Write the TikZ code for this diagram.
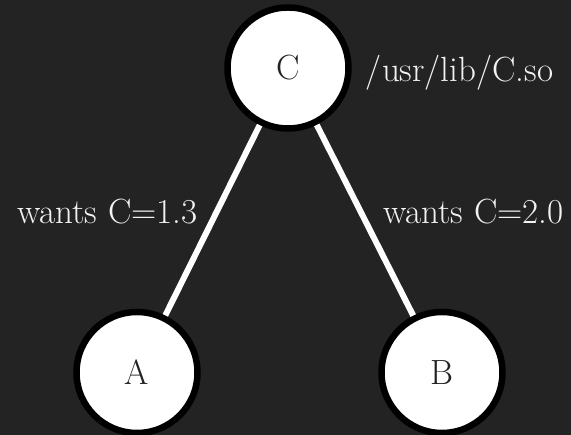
\documentclass[tikz,border=0pt]{standalone}
\usepackage{tikz}
\usetikzlibrary{positioning}
\usepackage{xcolor}
\definecolor{bgdark}{HTML}{232323}
\definecolor{labelgrey}{HTML}{F2F2F2}

\begin{document}
\begin{tikzpicture}[
    x=1pt, y=1pt,
    node distance=177pt,
    vertex/.style={draw=black, fill=white, circle, line width=6.5pt, minimum size=121pt, inner sep=0pt, text=bgdark, font=\fontsize{35}{42}\selectfont},
    tag/.style={text=labelgrey, inner sep=0pt, font=\fontsize{35}{42}\selectfont},
    link/.style={draw=white, line width=6pt}
]
    % Background
    \fill[bgdark] (0,0) rectangle (571,435);
    \useasboundingbox (0,0) rectangle (571,435);

    % Draw nodes
    \node (c) [vertex] at (288,367) {C};
    \node (a) [vertex, below=of c, xshift=-151pt] {A};
    \node (b) [vertex, below=of c, xshift=154pt] {B};
    \node (path) [tag, right=14pt of c, yshift=-5pt] {/usr/lib/C.so};

    % Draw connections
    \draw [link] (c) -- node[tag, left, xshift=-12pt, yshift=9pt] {wants C=1.3} (a);
    \draw [link] (c) -- node[tag, right, xshift=15pt, yshift=9pt] {wants C=2.0} (b);

\end{tikzpicture}
\end{document}
